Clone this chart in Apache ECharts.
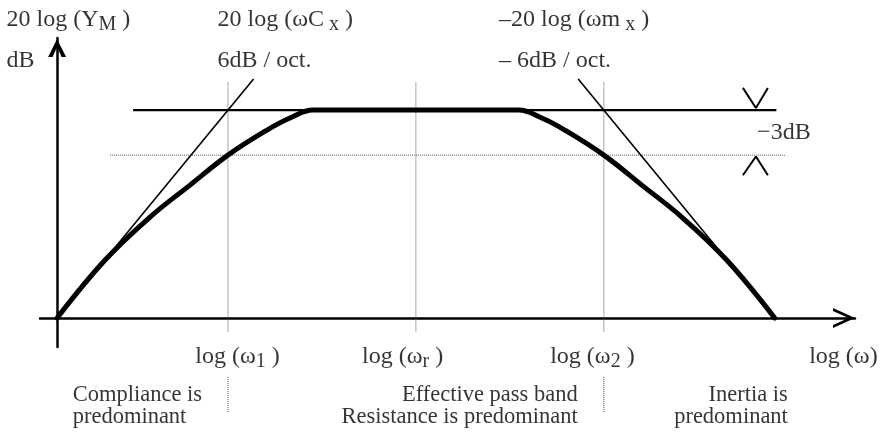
<!DOCTYPE html>
<html><head><meta charset="utf-8">
<script src="https://cdn.jsdelivr.net/npm/echarts@6/dist/echarts.min.js"></script>
<style>html,body{margin:0;padding:0;background:#fff}#c{width:884px;height:433px}</style>
</head><body><div id="c"></div>
<script>
// x: log(omega) in schematic units, y: level in schematic dB units (plateau = 30)
const tickValues = [10, 21, 32];            // log(w1), log(wr), log(w2)
const plateauLevel = 30;
const cutoffLevel = 23.5;                   // drawn "-3 dB" level
const responseX = [0, 2.81, 5.44, 7.78, 10, 12.29, 13.63, 14.98, 16, 26, 27.02, 28.37, 29.71, 32, 34.22, 36.56, 39.19, 42];
const responseY = [0, 8.37, 14.57, 19.18, 23.5, 27.12, 28.85, 30, 30, 30, 30, 28.85, 27.12, 23.5, 19.18, 14.57, 8.37, 0];
const riseAsymptoteX = [0, 11.5];
const riseAsymptoteY = [0, 34.5];
const fallAsymptoteX = [30.5, 42];
const fallAsymptoteY = [34.5, 0];
const plateauSpan = [4.45, 42.1];
const cutoffSpan = [3.1, 42.6];
const guideSpan = [34, -2];
const dividerValues = [10, 32];
const dividerSpan = [-8.5, -13.7];
const markerX = [40.14, 40.9, 41.6];
const upperMarkerY = [33.2, 30.3, 33.2];
const lowerMarkerY = [20.6, 23.3, 20.6];

const annotationTexts = [
  '{t|20 log (Y}{s|M}{t| )}',
  '{t|dB}',
  '{t|20 log (ωC}{s| x}{t| )}',
  '{t|6dB / oct.}',
  '{t|–20 log (ωm}{s| x}{t| )}',
  '{t|– 6dB / oct.}',
  '{t|−3dB}',
  '{t|log (ω}{s|1}{t| )}',
  '{t|log (ω}{s|r}{t| )}',
  '{t|log (ω}{s|2}{t| )}',
  '{t|log (ω)}',
  '{r|Compliance is}\n{r|predominant}',
  '{r|Effective pass band}\n{r|Resistance is predominant}',
  '{r|Inertia is}\n{r|predominant}'
];
const annotationAnchors = [
  [-2.93, 43.0], [-2.93, 37.1], [9.42, 43.0], [9.42, 37.1], [25.9, 43.0], [25.9, 37.1],
  [41.0, 26.7], [10.59, -5.6], [20.25, -5.6], [31.36, -5.6], [46.05, -5.6],
  [0.94, -12.75], [30.5, -12.75], [42.8, -12.75]
];
const annotationAlign = ['left','left','left','left','left','left','left','center','center','center','center','left','right','right'];

const F = 'Liberation Serif';
const rich = {
  t: {fontFamily: F, fontSize: 24, color: '#000'},
  s: {fontFamily: F, fontSize: 20, color: '#000', padding: [10, 0, 0, 0]},
  r: {fontFamily: F, fontSize: 22.5, color: '#000', lineHeight: 22}
};
const pair = (xs, ys) => xs.map((x, i) => [x, ys[i]]);
const gray = {color: '#555', width: 1, type: [1, 1]};
const noSym = {symbol: 'none', silent: true, clip: false, animation: false};

const series = [];
tickValues.forEach(v => series.push(Object.assign({type: 'line', data: [[v, guideSpan[0]], [v, guideSpan[1]]], lineStyle: gray, z: 1}, noSym)));
dividerValues.forEach(v => series.push(Object.assign({type: 'line', data: [[v, dividerSpan[0]], [v, dividerSpan[1]]], lineStyle: gray, z: 1}, noSym)));
series.push(Object.assign({type: 'line', data: [[cutoffSpan[0], cutoffLevel], [cutoffSpan[1], cutoffLevel]], lineStyle: gray, z: 1}, noSym));
series.push(Object.assign({type: 'line', data: [[plateauSpan[0], plateauLevel], [plateauSpan[1], plateauLevel]], lineStyle: {color: '#000', width: 2.2}, z: 2}, noSym));
series.push(Object.assign({type: 'line', data: pair(riseAsymptoteX, riseAsymptoteY), lineStyle: {color: '#000', width: 1.6}, z: 2}, noSym));
series.push(Object.assign({type: 'line', data: pair(fallAsymptoteX, fallAsymptoteY), lineStyle: {color: '#000', width: 1.6}, z: 2}, noSym));
series.push(Object.assign({type: 'line', data: pair(markerX, upperMarkerY), lineStyle: {color: '#000', width: 2}, z: 2}, noSym));
series.push(Object.assign({type: 'line', data: pair(markerX, lowerMarkerY), lineStyle: {color: '#000', width: 2}, z: 2}, noSym));
series.push(Object.assign({type: 'line', data: pair(responseX, responseY), smooth: 0.4, lineStyle: {color: '#000', width: 5, cap: 'round'}, z: 5}, noSym));
series.push({
  type: 'scatter', silent: true, clip: false, animation: false, symbolSize: 1,
  itemStyle: {color: 'rgba(0,0,0,0)'},
  data: annotationTexts.map((t, i) => ({
    value: annotationAnchors[i],
    label: {show: true, position: [0, 0], align: annotationAlign[i], verticalAlign: 'middle', formatter: t, rich: rich}
  }))
});

const xArrow = 'path://M0,22 L10,0 L20,22 L17,22 L10,6.5 L3,22 Z';
const yArrow = 'path://M0,20 L10,0 L20,20 L15,20 L10,9 L5,20 Z';

const chart = echarts.init(document.getElementById('c'), null, {renderer: 'canvas'});
chart.setOption({
  animation: false,
  backgroundColor: '#fff',
  grid: {left: 40, right: 29, top: 38, bottom: 86, containLabel: false},
  xAxis: {
    type: 'value', min: -1, max: 46.7,
    axisLine: {show: true, onZero: true, lineStyle: {color: '#000', width: 2.5},
      symbol: ['none', xArrow], symbolSize: [20, 22], symbolOffset: [0, -11]},
    axisTick: {show: false}, axisLabel: {show: false}, splitLine: {show: false}
  },
  yAxis: {
    type: 'value', min: -4.18, max: 40.4,
    axisLine: {show: true, onZero: true, lineStyle: {color: '#000', width: 2.5},
      symbol: ['none', yArrow], symbolSize: [18, 20], symbolOffset: [0, -10]},
    axisTick: {show: false}, axisLabel: {show: false}, splitLine: {show: false}
  },
  series: series
});
</script></body></html>
